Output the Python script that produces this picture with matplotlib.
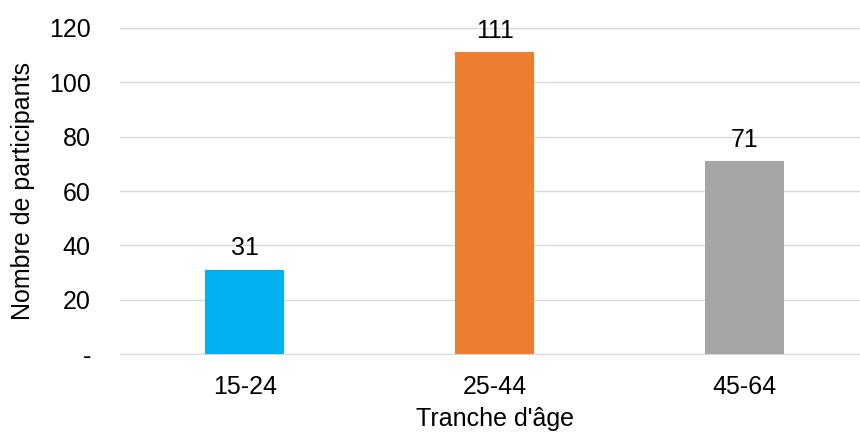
import matplotlib.pyplot as plt
from matplotlib.ticker import FuncFormatter

tranches = ["15-24", "25-44", "45-64"]
participants = [31, 111, 71]
couleurs = ["#00B0F0", "#ED7D31", "#A5A5A5"]

plt.rcParams['font.family'] = ['Liberation Sans', 'DejaVu Sans']
taille = 18

fig = plt.figure(figsize=(8.6, 4.34), dpi=100)
ax = fig.add_axes([0.1395, 0.1843, 0.872, 0.7512])

x = range(len(tranches))
bars = ax.bar(x, participants, width=0.316, color=couleurs, zorder=3)
for b, v in zip(bars, participants):
    ax.text(b.get_x() + b.get_width() / 2, v + 3.5, str(v), ha='center', va='bottom',
            fontsize=taille, color='#000000', zorder=4)

ax.set_xlim(-0.5, 2.5)
ax.set_ylim(0, 120)
ax.set_yticks(range(0, 121, 20))
ax.yaxis.set_major_formatter(FuncFormatter(lambda v, p: '-' if v == 0 else f'{int(v)}'))
ax.set_xticks(list(x))
ax.set_xticklabels(tranches)

ax.grid(axis='y', color='#D9D9D9', linewidth=1, zorder=0)
for s in ['top', 'right', 'left']:
    ax.spines[s].set_visible(False)
ax.spines['bottom'].set_color('#D9D9D9')
ax.tick_params(axis='both', length=0, labelsize=taille, colors='#000000')
ax.tick_params(axis='x', pad=15)
ax.tick_params(axis='y', pad=21)

ax.set_xlabel("Tranche d'âge", fontsize=taille, labelpad=6)
ax.set_ylabel("Nombre de participants", fontsize=taille, labelpad=10)

fig.savefig("out.png", dpi=100)
